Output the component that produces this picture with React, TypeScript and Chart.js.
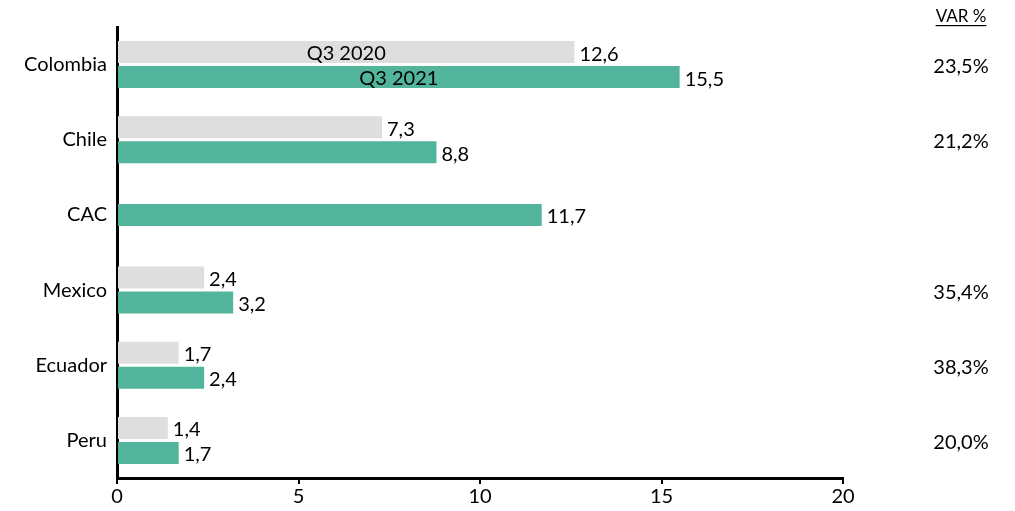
import React, { useEffect, useRef } from "react";
import { Chart, registerables } from "chart.js";

Chart.register(...registerables);

const categories = ["Colombia", "Chile", "CAC", "Mexico", "Ecuador", "Peru"];
const q3_2020: (number | null)[] = [12.6, 7.3, null, 2.4, 1.7, 1.4];
const q3_2021: (number | null)[] = [15.5, 8.8, 11.7, 3.2, 2.4, 1.7];
const varPct = ["23,5%", "21,2%", "", "35,4%", "38,3%", "20,0%"];
const seriesNames = ["Q3 2020", "Q3 2021"];
const xTicks = [0, 5, 10, 15, 20];

const FONT = "Lato, 'Open Sans', sans-serif";

const labelsPlugin = {
  id: "customLabels",
  afterDatasetsDraw(chart: any) {
    const ctx = chart.ctx;
    ctx.save();
    ctx.fillStyle = "#000";
    ctx.font = `20px ${FONT}`;
    ctx.textBaseline = "middle";
    chart.data.datasets.forEach((ds: any, di: number) => {
      const meta = chart.getDatasetMeta(di);
      meta.data.forEach((el: any, i: number) => {
        const v = ds.data[i];
        if (v === null || v === undefined) return;
        ctx.textAlign = "left";
        ctx.fillText(String(v.toFixed(1)).replace(".", ","), el.x + 5, el.y + 2);
        if (i === 0) {
          ctx.textAlign = "center";
          ctx.fillText(seriesNames[di], (el.x + el.base) / 2, el.y + 1);
        }
      });
    });
    // VAR % column
    const yScale = chart.scales.y;
    const cx = 961;
    ctx.textAlign = "center";
    ctx.font = `17px ${FONT}`;
    ctx.fillText("VAR %", cx, 17);
    const w = ctx.measureText("VAR %").width;
    ctx.fillRect(cx - w / 2, 25, w, 1.2);
    ctx.font = `20px ${FONT}`;
    varPct.forEach((t, i) => {
      if (!t) return;
      ctx.fillText(t, cx, yScale.getPixelForValue(i) + 2);
    });
    ctx.restore();
  },
};

export default function App() {
  const ref = useRef<HTMLCanvasElement | null>(null);
  useEffect(() => {
    if (!ref.current) return;
    const chart = new Chart(ref.current, {
      type: "bar",
      data: {
        labels: categories,
        datasets: [
          {
            label: seriesNames[0],
            data: q3_2020,
            backgroundColor: "#dedede",
          },
          {
            label: seriesNames[1],
            data: q3_2021,
            backgroundColor: "#52b59b",
          },
        ],
      },
      options: {
        indexAxis: "y",
        animation: false,
        responsive: false,
        maintainAspectRatio: false,
        datasets: {
          bar: {
            skipNull: true,
            categoryPercentage: 0.667,
            barPercentage: 0.9,
            maxBarThickness: 22,
          },
        },
        layout: { padding: { left: 0, right: 172, top: 27, bottom: 0 } },
        plugins: {
          legend: { display: false },
          tooltip: { enabled: false },
        },
        scales: {
          x: {
            min: 0,
            max: 20,
            afterBuildTicks: (scale: any) => {
              scale.ticks = xTicks.map((v) => ({ value: v }));
            },
            afterFit: (scale: any) => {
              scale.height = 33;
            },
            border: { display: true, color: "#000", width: 3 },
            grid: {
              drawOnChartArea: false,
              drawTicks: true,
              tickLength: 6,
              color: "#000",
              lineWidth: 2,
            },
            ticks: {
              color: "#000",
              font: { family: FONT, size: 20 },
              padding: 1,
              maxRotation: 0,
            },
          },
          y: {
            afterFit: (scale: any) => {
              scale.width = 117;
            },
            border: { display: true, color: "#000", width: 3 },
            grid: { display: false, drawTicks: false },
            ticks: {
              color: "#000",
              font: { family: FONT, size: 20 },
              padding: 10,
            },
          },
        },
      },
      plugins: [labelsPlugin],
    });
    return () => chart.destroy();
  }, []);
  return (
    <div style={{ position: "fixed", left: 0, top: 0, width: 1015, height: 511, background: "#fff" }}>
      <canvas ref={ref} width={1015} height={511} style={{ display: "block" }} />
    </div>
  );
}
